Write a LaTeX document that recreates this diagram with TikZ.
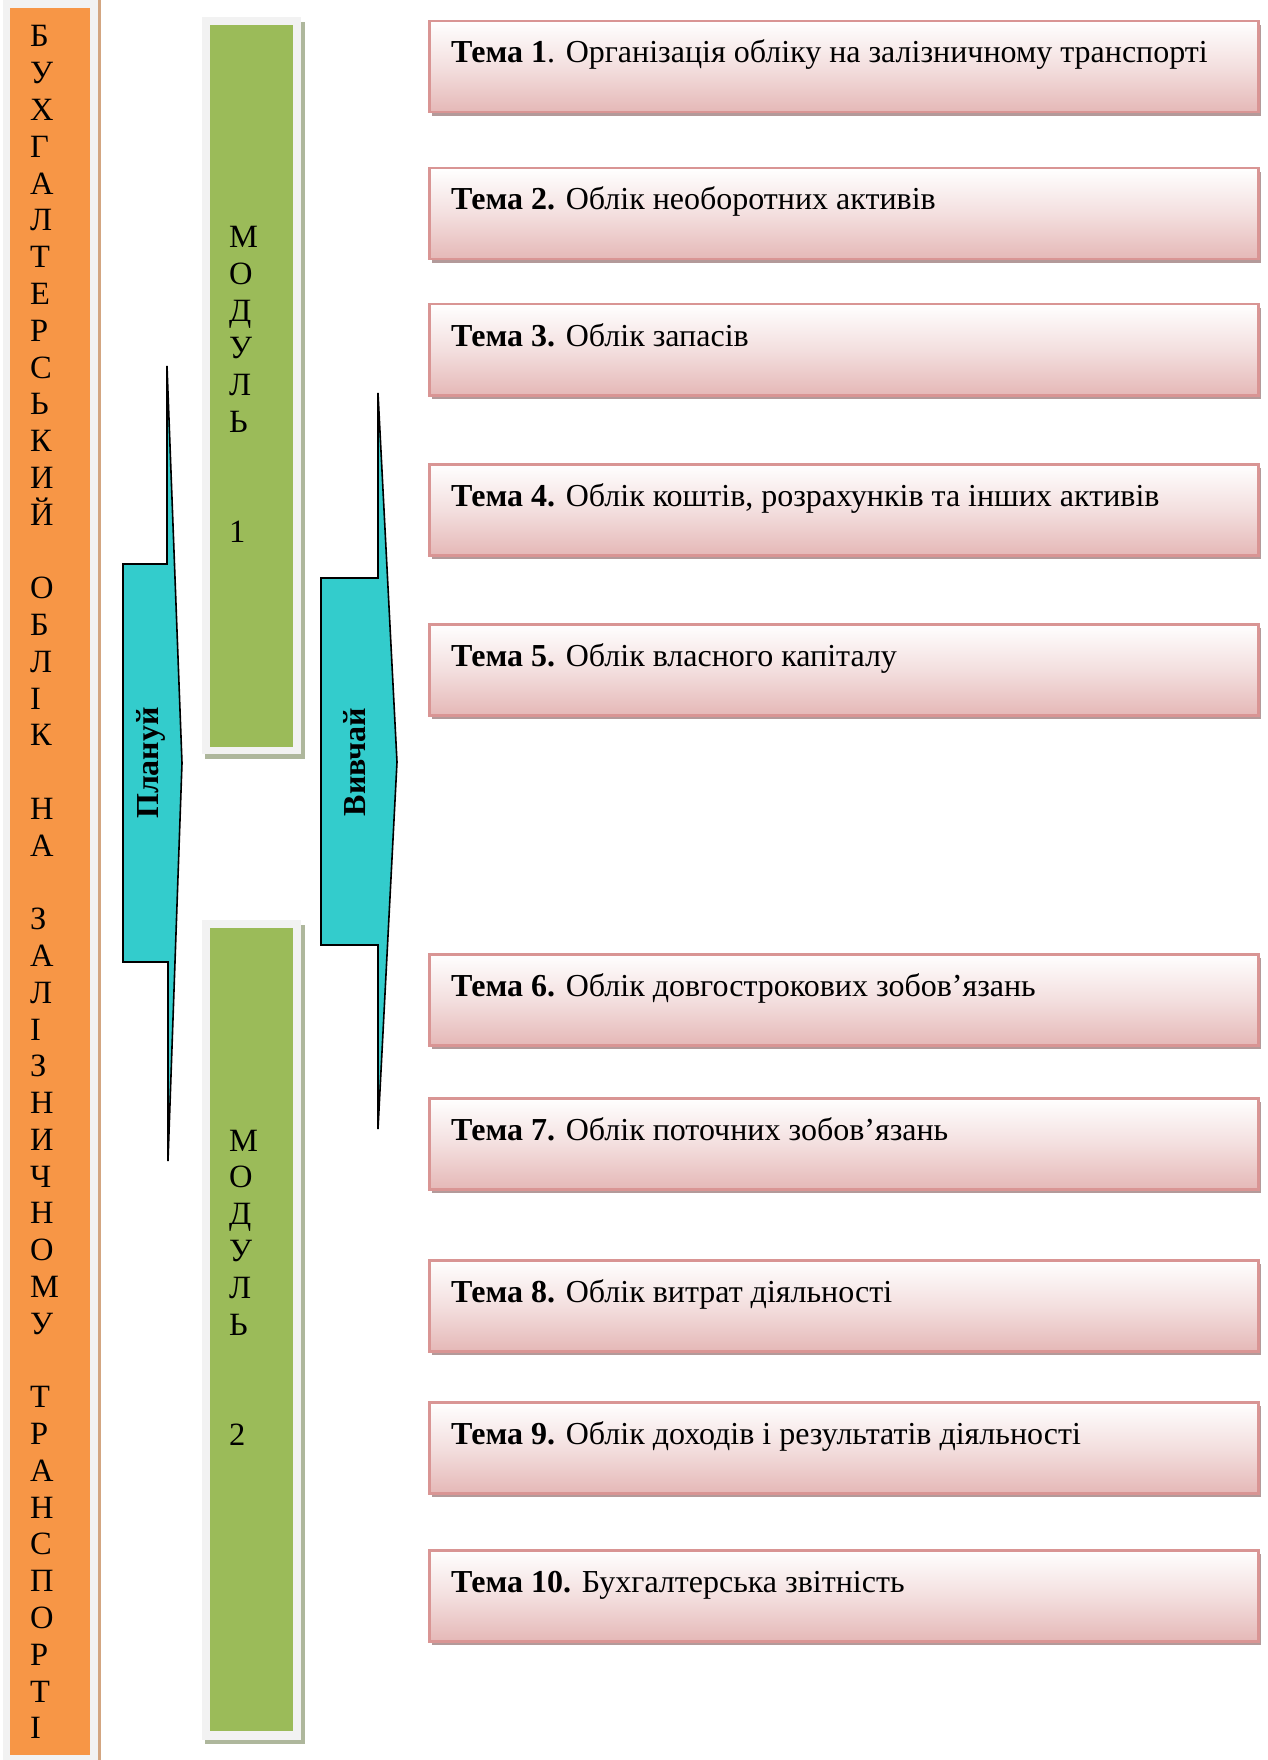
\documentclass[tikz,border=0pt]{standalone}
\usepackage{fontspec}
\setmainfont{Liberation Serif}
\usetikzlibrary{shadows}
\definecolor{orangec}{HTML}{F79646}
\definecolor{greenc}{HTML}{9BBB59}
\definecolor{cyanc}{HTML}{33CCCC}
\definecolor{frameg}{HTML}{F2F2F2}
\definecolor{pinkborder}{HTML}{D99594}
\definecolor{pinkfill}{HTML}{E5B8B7}
\definecolor{pinkshadow}{HTML}{B39A9A}
\definecolor{greenshadow}{HTML}{AEB79C}
\definecolor{orangeshadow}{HTML}{D3A681}
\tikzset{
  letter/.style={anchor=base west, inner sep=0pt, font=\fontsize{32.5}{40}\selectfont},
  temabox/.style={anchor=north west, minimum width=829pt, minimum height=91pt, inner sep=0pt,
    draw=pinkborder, line width=2.5pt, top color=white, bottom color=pinkfill, middle color=pinkfill!45!white,
    general shadow={fill=pinkshadow, shadow xshift=3pt, shadow yshift=-4pt}},
  tematext/.style={anchor=base west, inner sep=0pt, font=\fontsize{32}{40}\selectfont},
  arrowshape/.style={fill=cyanc, draw=black, line width=1.6pt, line join=miter},
  arrowtext/.style={rotate=90, inner sep=0pt, font=\fontsize{32}{40}\selectfont\bfseries}
}
\begin{document}
\begin{tikzpicture}[x=1pt,y=-1pt]
\useasboundingbox[fill=white] (0,0) rectangle (1267,1760);
% orange column
\fill[orangeshadow] (98,0) rectangle (101,1760);
\fill[frameg] (3,0) rectangle (98,1760);
\node[fill=orangec, anchor=north west, minimum width=80pt, minimum height=1747pt, inner sep=0pt] (main) at (10,8) {};
\foreach \l [count=\i from 0] in {Б,У,Х,Г,А,Л,Т,Е,Р,С,Ь,К,И,Й,{},О,Б,Л,І,К,{},Н,А,{},З,А,Л,І,З,Н,И,Ч,Н,О,М,У,{},Т,Р,А,Н,С,П,О,Р,Т,І}
  \node[letter] (o\i) at (30,47+36.78*\i) {\l};
% module 1
\fill[greenshadow] (205,22) rectangle (305,759);
\fill[frameg] (202,17) rectangle (301,754);
\node[fill=greenc, anchor=north west, minimum width=83pt, minimum height=722pt, inner sep=0pt] (m1) at (210,25) {};
\foreach \l [count=\i from 0] in {М,О,Д,У,Л,Ь,{},{},1}
  \node[letter] (a\i) at (229,248+36.8*\i) {\l};
% module 2
\fill[greenshadow] (205,925) rectangle (305,1744);
\fill[frameg] (202,920) rectangle (301,1740);
\node[fill=greenc, anchor=north west, minimum width=83pt, minimum height=803pt, inner sep=0pt] (m2) at (210,928) {};
\foreach \l [count=\i from 0] in {М,О,Д,У,Л,Ь,{},{},2}
  \node[letter] (b\i) at (229,1151+36.8*\i) {\l};
% arrows
\draw[arrowshape] (167,366) -- (167,564) -- (123,564) -- (123,962) -- (168,962) -- (168,1161) -- (182,763) -- cycle;
\node[arrowtext] (plan) at (151,763) {Плануй};
\draw[arrowshape] (378,393) -- (378,578) -- (321,578) -- (321,945) -- (378,945) -- (378,1129) -- (397,762) -- cycle;
\node[arrowtext] (vyv) at (355,762) {Вивчай};
% topic boxes
\foreach \t/\txt [count=\i] in {
  20/{\textbf{Тема 1}. Організація обліку на залізничному транспорті},
  167/{\textbf{Тема 2.} Облік необоротних активів},
  303/{\textbf{Тема 3.} Облік запасів},
  463/{\textbf{Тема 4.} Облік коштів, розрахунків та інших активів},
  623/{\textbf{Тема 5.} Облік власного капіталу},
  953/{\textbf{Тема 6.} Облік довгострокових зобов’язань},
  1097/{\textbf{Тема 7.} Облік поточних зобов’язань},
  1259/{\textbf{Тема 8.} Облік витрат діяльності},
  1401/{\textbf{Тема 9.} Облік доходів і результатів діяльності},
  1549/{\textbf{Тема 10.} Бухгалтерська звітність}}
{
  \node[temabox] (t\i) at (428,\t) {};
  \node[tematext] (l\i) at (451,\t+43) {\txt};
}
\end{tikzpicture}
\end{document}
